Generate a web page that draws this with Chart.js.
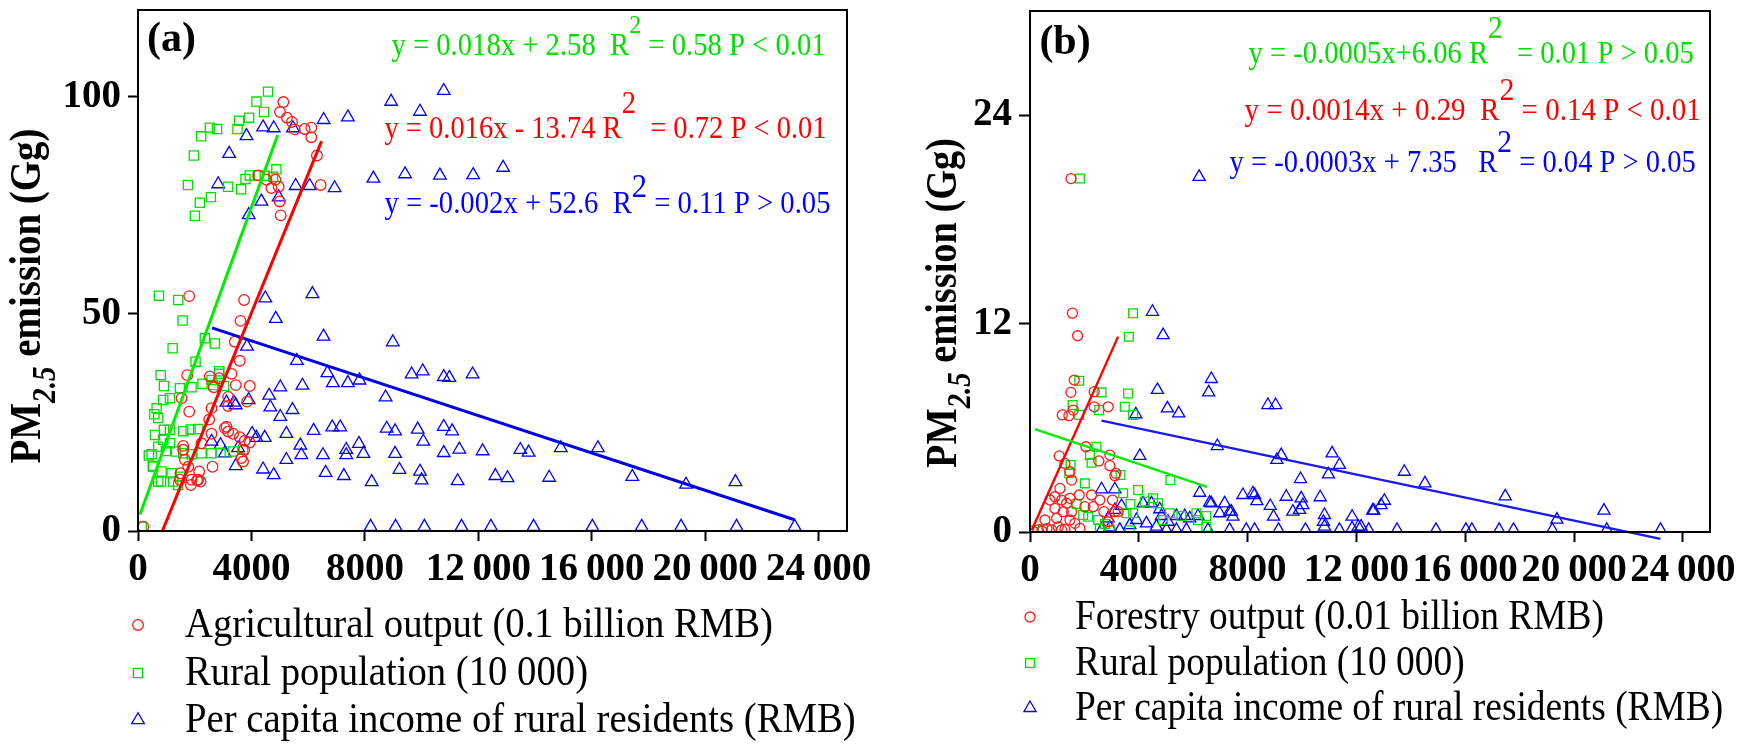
<!DOCTYPE html>
<html>
<head>
<meta charset="utf-8">
<script src="https://cdn.jsdelivr.net/npm/chart.js@4.4.1/dist/chart.umd.min.js"></script>
<style>
body { margin: 0; background: #fff; }
#wrap { position: relative; width: 1740px; height: 752px; overflow: hidden; background: #fff; }
#chartA { position: absolute; left: 0; top: 0; }
#chartB { position: absolute; left: 870px; top: 0; }
</style>
</head>
<body>
<div id="wrap">
  <canvas id="chartA" width="900" height="752"></canvas>
  <canvas id="chartB" width="870" height="752"></canvas>
</div>
<script>
var serif = "'Liberation Serif', 'Times New Roman', serif";
var RED = '#ff0000';
var GREEN = '#00e000';
var BLUE = '#0000ff';

// axes
var xTickValues = [0, 4000, 8000, 12000, 16000, 20000, 24000];
var xTickLabels = ['0', '4000', '8000', '12\u2009000', '16\u2009000', '20\u2009000', '24\u2009000'];
var yTicksA = [0, 50, 100];
var yTicksB = [0, 12, 24];

// ---- panel (a) ----
var aAgriX = [5126, 5008, 5253, 5429, 5524, 5876, 6111, 6111, 6309, 6439, 4235, 4703, 4961, 4843, 4996, 5032, 4527,
  1806, 3741, 3613, 3413, 3589, 1735, 2533, 2861, 3296, 3448, 3941, 2674, 1537, 3179, 3847, 3179, 2593, 1806, 2510,
  3061, 3179, 3354, 3589, 3765, 3941, 3741, 3648, 3706, 2593, 2241, 2628, 1594, 1594, 1654, 1771, 2157, 2122, 1889,
  2205, 1865, 1502, 1478, 2083, 187, 3120];
var aAgriY = [98.8, 96.5, 95.2, 94.2, 92.5, 92.6, 92.9, 90.7, 86.5, 79.7, 81.9, 79.0, 79.3, 80.9, 75.9, 72.7, 80.9,
  54.1, 53.2, 48.4, 43.6, 39.2, 35.9, 35.6, 35.2, 36.2, 33.6, 33.4, 33.1, 30.6, 30.9, 29.8, 28.8, 28.3, 27.5, 25.7,
  23.7, 22.9, 22.4, 21.6, 20.8, 20.4, 18.7, 16.8, 16.0, 22.4, 20.2, 14.8, 19.6, 18.7, 16.4, 14.8, 13.7, 11.8, 11.8,
  11.4, 10.6, 13.3, 11.8, 11.7, 1.0, 24.0];

var aPopX = [4585, 4176, 4446, 3917, 3566, 3508, 2787, 2533, 2228, 1970, 4880, 3941, 3790, 4235, 4469, 4762, 3179,
  3635, 1759, 2569, 2182, 2006,
  739, 1418, 1573, 1221, 2357, 2709, 2030, 799, 915, 1478, 1889, 2275, 2593, 2861, 2650, 3037, 1126, 890, 657, 714,
  598, 915, 1126, 1594, 1854, 2122, 890, 1126, 714, 481, 985, 1337, 1594, 1889, 2241, 2593, 2910, 3354, 3705, 539,
  834, 1186, 1478, 1243, 1418, 714, 130, 577, 383, 521, 813, 2866];
var aPopY = [101.2, 98.9, 96.5, 95.2, 94.5, 92.6, 92.6, 92.9, 90.9, 86.5, 83.3, 81.9, 81.1, 81.9, 81.8, 81.6, 79.3,
  78.7, 79.7, 76.9, 75.6, 72.6,
  54.2, 53.2, 48.5, 42.1, 44.4, 43.2, 39.0, 35.9, 33.4, 32.9, 33.1, 33.9, 34.8, 36.2, 33.6, 33.4, 30.6, 30.2, 28.3, 26.0,
  22.1, 23.3, 23.3, 23.0, 23.4, 23.5, 21.0, 20.2, 19.4, 17.7, 18.4, 18.3, 17.9, 17.7, 17.9, 17.9, 18.0, 18.3, 18.7, 14.8,
  13.7, 13.3, 12.5, 11.4, 10.6, 11.4, 1.0, 26.9, 17.4, 15.0, 11.4, 36.8];

var aIncomeX = [6545, 7400, 4410, 4785, 5465, 3825, 3214, 2827, 4352, 4961, 5559, 6052, 6932, 3906, 8926, 10781, 9944,
  8300, 9416, 10646, 11818, 12874,
  4489, 6150, 4859, 6541, 8984, 5602, 6678, 6872, 7400, 7811, 9648, 10039, 10781, 10978, 11798, 8730, 5017, 5798, 4624,
  4665, 5446, 5017, 3843, 3901, 3120, 3378, 3448, 6193, 6849, 7132, 5231, 4023, 4469, 4176, 5724, 2593, 2910, 3530,
  3061, 5759, 5231, 6521, 7343, 7343, 3448, 4410, 4785, 6615, 7259,
  8769, 9064, 9863, 10781, 11077, 10060, 7791, 9064, 7949, 10781, 11330, 12150, 13480, 13773, 14909, 16217, 9219, 9944,
  10000, 8241, 11270, 12600, 13030, 14497, 17428, 19325, 21066,
  8202, 9082, 10098, 11408, 12445, 13948, 16021, 17762, 19149, 21105, 23156];
var aIncomeY = [94.7, 95.3, 93.0, 92.8, 92.8, 91.0, 86.9, 79.9, 75.9, 76.9, 79.5, 79.5, 79.0, 72.8, 98.9, 101.4, 96.6,
  81.2, 82.2, 81.9, 82.0, 83.7,
  53.6, 54.6, 48.9, 44.8, 43.5, 39.2, 36.4, 34.1, 34.1, 34.7, 36.1, 36.8, 35.5, 35.3, 36.1, 30.8, 33.1, 33.5, 31.2,
  28.5, 27.9, 26.3, 42.5, 30.2, 29.6, 29.6, 29.0, 23.1, 23.9, 23.9, 22.4, 22.4, 21.5, 21.5, 19.7, 20.6, 19.8, 19.1,
  17.9, 17.5, 16.4, 17.5, 18.7, 17.5, 15.0, 14.2, 12.9, 13.4, 12.7,
  23.6, 23.0, 23.4, 24.0, 23.0, 20.6, 20.1, 17.8, 17.8, 18.0, 18.8, 18.4, 18.7, 18.1, 19.1, 19.1, 14.1, 13.7,
  11.7, 11.3, 11.5, 12.7, 12.2, 12.3, 12.5, 10.7, 11.3,
  1.0, 1.0, 1.0, 1.0, 1.0, 1.0, 1.0, 1.0, 1.0, 1.0, 1.0];

// fitted lines (a): end points
var aFitPopX = [70, 4926];
var aFitPopY = [3.8, 91.2];
var aFitAgriX = [859, 6474];
var aFitAgriY = [0, 89.8];
var aFitIncomeX = [2611, 23150];
var aFitIncomeY = [46.8, 2.6];

// ---- panel (b) ----
var bForestX = [1560, 1750, 1508, 1627, 1505, 2361, 1590, 1431, 1187, 2361, 2875, 2055, 1076, 2936, 2532, 2936, 3156,
  3119, 1284, 1468, 1529, 1101, 917, 734, 1162, 1468, 1346, 1810, 2263, 2569, 3034, 2018, 2324, 2716, 3119, 1223, 1529,
  917, 550, 979, 1468, 1835, 795, 1162, 306, 3242, 2875, 110, 440, 624, 1284, 1040, 1650];
var bForestY = [12.6, 11.3, 20.35, 8.75, 8.04, 8.08, 7.02, 6.7, 6.74, 7.21, 7.21, 4.91, 4.38, 4.43, 4.09, 3.82, 3.38,
  3.24, 3.95, 3.47, 2.99, 2.51, 2.03, 1.84, 1.84, 1.94, 1.65, 2.13, 2.13, 1.84, 1.84, 1.46, 1.46, 1.17, 1.17, 1.17, 1.17,
  1.36, 0.69, 0.79, 0.69, 0.21, 0.12, 0.12, 0.12, 1.17, 0.59, 0.06, 0.05, 0.2, 0.15, 0.3, 0.5];

var bPopX = [3790, 3633, 1835, 1810, 2630, 3608, 1566, 1810, 2544, 3486, 3792, 2446, 2202, 2263, 1492, 1444, 3327,
  2018, 3976, 5162, 1713, 2141, 2508, 2569, 2752, 3425, 3694, 3792, 4220, 4526, 4709, 5138, 5566, 6116, 6483, 6177,
  477, 2936, 3670, 1957, 3548, 4893, 6483];
var bPopY = [12.6, 11.24, 20.35, 8.71, 8.04, 7.98, 7.31, 6.74, 7.02, 7.21, 6.74, 4.91, 4.43, 3.99, 3.86, 3.38, 3.28,
  2.80, 2.42, 2.99, 1.61, 0.88, 0.69, 0.21, 0.46, 2.23, 1.61, 1.08, 1.75, 1.94, 1.65, 1.08, 0.92, 1.08, 0.92, 0.69,
  0.17, 0.1, 0.1, 0.98, 1.08, 0.69, 0.3];

var bIncomeX = [4502, 4893, 6217, 6667, 6569, 4685, 5052, 5468, 3890, 4037, 6887, 8746, 9028, 2630, 3119, 6239, 6667,
  7156, 7828, 8257, 8342, 7401, 6972, 3365, 4158, 4466, 4771, 4832, 5076, 5383, 5688, 5872, 6177, 3914, 3670, 2875,
  2936, 3303, 4281, 4648, 5015, 5383, 5750, 6544, 7339, 7951, 8257, 3119, 2630,
  9235, 9075, 11107, 11376, 10972, 13761, 14520, 9945, 8195, 9420, 9970, 10031, 9908, 10668, 8833, 8954, 9663, 7461,
  10826, 10789, 10826, 11842, 12906, 13028, 12598, 12172, 11842, 6606, 7339,
  9138, 10128, 11376, 12451, 13493, 14925, 16025, 16245, 17248, 17777, 19204, 21204, 23181,
  17472, 19369, 21101, 12070, 12640];
var bIncomeY = [12.68, 11.34, 20.45, 8.81, 8.04, 8.18, 7.12, 6.83, 6.78, 4.38, 4.95, 7.31, 7.31, 2.46, 2.46, 2.26, 1.65,
  1.65, 2.13, 2.13, 1.78, 1.17, 1.08, 1.50, 1.65, 1.65, 1.31, 0.92, 0.59, 0.92, 0.92, 0.79, 0.92, 0.69, 0.40, 0.79,
  0.27, 0.12, 0.50, 0.31, 0.12, 0.12, 0.12, 0.12, 0.12, 0.12, 0.12, 1.27, 0.12,
  4.43, 4.15, 4.53, 3.86, 3.32, 3.47, 2.80, 3.05, 2.23, 2.03, 1.94, 1.55, 1.27, 2.00, 1.50, 0.88, 1.17, 0.88,
  0.98, 0.59, 0.31, 0.88, 1.55, 1.80, 1.23, 0.31, 0.21, 1.69, 1.17,
  0.12, 0.12, 0.12, 0.12, 0.12, 0.12, 0.12, 0.12, 0.12, 0.12, 0.12, 0.12, 0.12,
  2.05, 0.71, 1.23, 0.3, 1.23];

var bFitPopX = [183, 6507];
var bFitPopY = [5.93, 2.6];
var bFitForestX = [62, 3240];
var bFitForestY = [0.1, 11.25];
var bFitIncomeX = [2631, 23180];
var bFitIncomeY = [6.41, -0.4];


function points(xs, ys) {
  return xs.map(function (x, i) { return {x: x, y: ys[i]}; });
}

function scatterSet(label, xs, ys, color, style, radius) {
  return {
    type: 'scatter', label: label, data: points(xs, ys),
    pointStyle: style, pointRadius: radius, pointHoverRadius: radius,
    borderColor: color, backgroundColor: 'rgba(0,0,0,0)', pointBorderWidth: 1.3,
    order: 1
  };
}

function fitLine(xs, ys, color, width, clip) {
  return {
    type: 'line', data: points(xs, ys), borderColor: color, borderWidth: width,
    pointRadius: 0, fill: false, order: 0, clip: clip
  };
}

// text with mixed fonts (sub/superscripts), drawn at the current origin
function richWidth(ctx, parts) {
  var w = 0;
  parts.forEach(function (p) { ctx.font = p.font; w += ctx.measureText(p.text).width; });
  return w;
}
function richDraw(ctx, parts) {
  var cx = 0;
  parts.forEach(function (p) {
    ctx.font = p.font;
    ctx.fillText(p.text, cx, p.dy || 0);
    cx += ctx.measureText(p.text).width;
  });
}

var panelText = {
  id: 'panelText',
  afterDraw: function (chart, args, o) {
    var ctx = chart.ctx, area = chart.chartArea;
    var sx = chart.scales.x, sy = chart.scales.y;
    ctx.save();

    // box around the plot
    ctx.strokeStyle = '#000';
    ctx.lineWidth = 2;
    ctx.strokeRect(area.left, area.top, area.right - area.left, area.bottom - area.top);

    ctx.textAlign = 'left';
    ctx.textBaseline = 'alphabetic';

    // (a) / (b)
    ctx.fillStyle = '#000';
    ctx.font = 'bold 42px ' + serif;
    ctx.fillText(o.tag.text, sx.getPixelForValue(o.tag.x), sy.getPixelForValue(o.tag.y));

    // regression equations
    o.equations.forEach(function (eq) {
      var parts = [
        {text: eq.pre, font: '31px ' + serif},
        {text: '2', font: eq.supSize + 'px ' + serif, dy: -eq.raise},
        {text: eq.post, font: '31px ' + serif}
      ];
      var x0 = sx.getPixelForValue(eq.x0), x1 = sx.getPixelForValue(eq.x1);
      var s = (x1 - x0) / richWidth(ctx, parts);
      ctx.save();
      ctx.fillStyle = eq.color;
      ctx.translate(x0, sy.getPixelForValue(eq.y));
      ctx.scale(s, 1);
      richDraw(ctx, parts);
      ctx.restore();
    });

    // y axis title, PM2.5 with subscript
    var t = o.title;
    var tparts = [
      {text: 'PM', font: 'bold 44px ' + serif},
      {text: '2.5', font: 'italic bold 33px ' + serif, dy: t.subDrop},
      {text: ' emission (Gg)', font: 'bold 44px ' + serif}
    ];
    var ts = t.length / richWidth(ctx, tparts);
    ctx.save();
    ctx.fillStyle = '#000';
    ctx.translate(t.x, t.y);
    ctx.rotate(-Math.PI / 2);
    ctx.scale(ts, 1);
    ctx.translate(-t.length / ts / 2, 0);
    richDraw(ctx, tparts);
    ctx.restore();

    // legend under the plot
    var lg = o.legend;
    var sets = chart.data.datasets.filter(function (ds) { return ds.type === 'scatter'; });
    sets.forEach(function (ds, i) {
      var cy = area.bottom + lg.rows[i];
      ctx.save();
      ctx.strokeStyle = ds.borderColor;
      ctx.fillStyle = 'rgba(0,0,0,0)';
      ctx.lineWidth = 1.3;
      Chart.helpers.drawPoint(ctx, {pointStyle: ds.pointStyle, radius: ds.pointRadius, borderWidth: 1.3, rotation: 0},
        area.left, cy);
      ctx.restore();
      ctx.save();
      ctx.fillStyle = '#000';
      ctx.font = lg.size + 'px ' + serif;
      ctx.translate(area.left + lg.textDx, cy + lg.baseDy);
      ctx.scale(lg.squeeze, 1);
      ctx.fillText(ds.label, 0, 0);
      ctx.restore();
    });

    ctx.restore();
  }
};

var tickFont = {family: serif, size: 39, weight: 'bold'};

function panelOptions(p) {
  return {
    responsive: false,
    animation: false,
    events: [],
    layout: {padding: {left: 0, top: p.top, right: p.right, bottom: p.bottom}},
    scales: {
      x: {
        type: 'linear', min: 0, max: 25000,
        afterBuildTicks: function (s) { s.ticks = xTickValues.map(function (v) { return {value: v}; }); },
        afterFit: function (s) { s.height = 60; s.paddingLeft = 0; s.paddingRight = 0; },
        grid: {drawOnChartArea: false, drawTicks: true, tickLength: 10, tickWidth: 2, tickColor: '#000'},
        border: {display: true, color: '#000', width: 2},
        ticks: {
          autoSkip: false, maxRotation: 0, minRotation: 0, padding: 6, color: '#000', font: tickFont,
          callback: function (v, i) { return xTickLabels[i]; }
        }
      },
      y: {
        type: 'linear', min: 0, max: p.yMax,
        afterBuildTicks: function (s) { s.ticks = p.yTicks.map(function (v) { return {value: v}; }); },
        afterFit: function (s) { s.width = p.yWidth; s.paddingTop = 0; s.paddingBottom = 0; },
        grid: {drawOnChartArea: false, drawTicks: true, tickLength: p.yTickLen, tickWidth: 2, tickColor: '#000'},
        border: {display: true, color: '#000', width: 2},
        ticks: {padding: 7, color: '#000', font: tickFont}
      }
    },
    plugins: {
      legend: {display: false},
      tooltip: {enabled: false},
      panelText: p.text
    }
  };
}

window.onload = function () {
  new Chart(document.getElementById('chartA'), {
    type: 'scatter',
    data: {
      datasets: [
        scatterSet('Agricultural output (0.1 billion RMB)', aAgriX, aAgriY, '#ff1a1a', 'circle', 5.3),
        scatterSet('Rural population (10 000)', aPopX, aPopY, '#00dd00', 'rect', 6.5),
        scatterSet('Per capita income of rural residents (RMB)', aIncomeX, aIncomeY, BLUE, 'triangle', 7.3),
        fitLine(aFitPopX, aFitPopY, '#00ee00', 3, true),
        fitLine(aFitAgriX, aFitAgriY, RED, 3, true),
        fitLine(aFitIncomeX, aFitIncomeY, '#0000e6', 3, true)
      ]
    },
    options: panelOptions({
      top: 10, right: 53, bottom: 161, yWidth: 138, yTickLen: 10, yMax: 120, yTicks: yTicksA,
      text: {
        tag: {text: '(a)', x: 317, y: 110.6},
        equations: [
          {pre: 'y = 0.018x + 2.58  R', post: ' = 0.58 P < 0.01', color: GREEN, x0: 8937, x1: 24243, y: 109.7, supSize: 26, raise: 22},
          {pre: 'y = 0.016x - 13.74 R', post: '  = 0.72 P < 0.01', color: RED, x0: 8691, x1: 24279, y: 90.6, supSize: 31, raise: 25},
          {pre: 'y = -0.002x + 52.6  R', post: ' = 0.11 P > 0.05', color: BLUE, x0: 8691, x1: 24419, y: 73.3, supSize: 33, raise: 16}
        ],
        title: {x: 40, y: 296, length: 335, subDrop: 15},
        legend: {rows: [94, 142, 189], textDx: 47, baseDy: 12, size: 43, squeeze: 0.9}
      }
    }),
    plugins: [panelText]
  });

  new Chart(document.getElementById('chartB'), {
    type: 'scatter',
    data: {
      datasets: [
        scatterSet('Forestry output (0.01 billion RMB)', bForestX, bForestY, '#ff1a1a', 'circle', 5),
        scatterSet('Rural population (10 000)', bPopX, bPopY, '#00dd00', 'rect', 6.2),
        scatterSet('Per capita income of rural residents (RMB)', bIncomeX, bIncomeY, BLUE, 'triangle', 7),
        fitLine(bFitPopX, bFitPopY, '#00ee00', 2.4, true),
        fitLine(bFitForestX, bFitForestY, RED, 2.4, true),
        fitLine(bFitIncomeX, bFitIncomeY, '#1a1aee', 2.4, false)
      ]
    },
    options: panelOptions({
      top: 11, right: 30, bottom: 160, yWidth: 160, yTickLen: 11, yMax: 30, yTicks: yTicksB,
      text: {
        tag: {text: '(b)', x: 345, y: 27.5},
        equations: [
          {pre: 'y = -0.0005x+6.06 R', post: '  = 0.01 P > 0.05', color: GREEN, x0: 8037, x1: 24404, y: 27.0, supSize: 32, raise: 25},
          {pre: 'y = 0.0014x + 0.29  R', post: ' = 0.14 P < 0.01', color: RED, x0: 7890, x1: 24661, y: 23.72, supSize: 32, raise: 20},
          {pre: 'y = -0.0003x + 7.35   R', post: ' = 0.04 P > 0.05', color: BLUE, x0: 7339, x1: 24477, y: 20.73, supSize: 32, raise: 20}
        ],
        title: {x: 86, y: 303, length: 330, subDrop: 14},
        legend: {rows: [85, 131, 176], textDx: 45, baseDy: 12, size: 43, squeeze: 0.87}
      }
    }),
    plugins: [panelText]
  });
};
</script>
</body>
</html>
